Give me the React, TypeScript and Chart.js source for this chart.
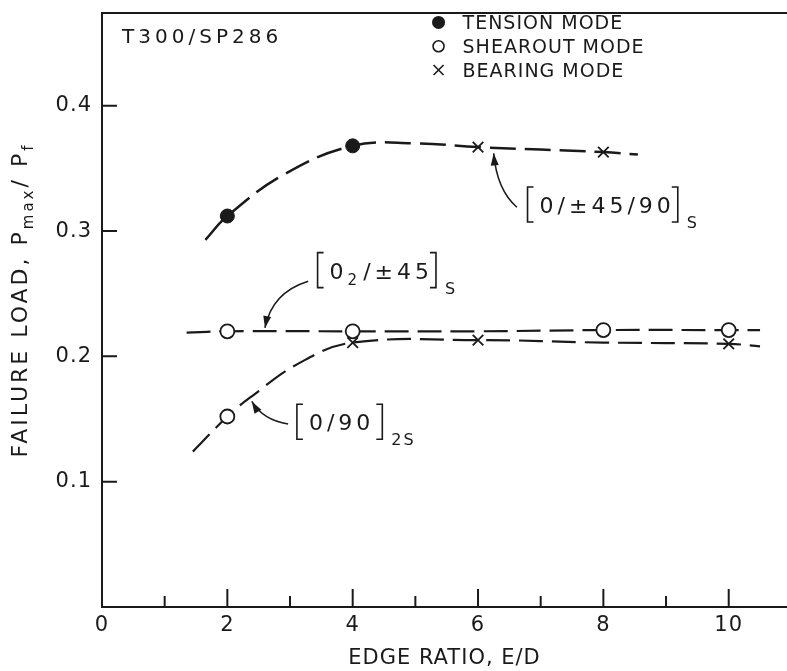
import React, { useEffect, useRef } from "react";
import { Chart, registerables } from "chart.js";

Chart.register(...registerables);

const FONT = "'DejaVu Sans', 'Liberation Sans', sans-serif";
const INK = "#1a1a1a";

// ---------- data ----------
// failure-mode markers
const tensionX = [2, 4];
const tensionY = [0.312, 0.368];
const shearoutX = [2, 4, 8, 10, 2];
const shearoutY = [0.22, 0.22, 0.221, 0.221, 0.152];
const bearingX = [6, 8, 4, 6, 10];
const bearingY = [0.367, 0.363, 0.211, 0.213, 0.21];

// faired dashed curves
const quasiX = [1.65, 2, 2.9, 4, 5, 6, 8, 8.55];
const quasiY = [0.293, 0.312, 0.345, 0.368, 0.37, 0.367, 0.363, 0.361];
const angleX = [1.35, 2, 4, 6, 8, 10, 10.5];
const angleY = [0.219, 0.22, 0.22, 0.22, 0.221, 0.221, 0.221];
const crossX = [1.45, 2, 2.36, 3.16, 4, 6, 8, 10, 10.5];
const crossY = [0.124, 0.152, 0.167, 0.195, 0.211, 0.213, 0.211, 0.21, 0.208];

// axes
const X_MIN = 0;
const X_MAX = 10.93;
const Y_MIN = 0;
const Y_MAX = 0.474;
const xMajorTicks = [2, 4, 6, 8, 10];
const xMinorTicks = [1, 3, 5, 7, 9];
const yMajorTicks = [0.1, 0.2, 0.3, 0.4];

// texts
const materialLabel = "T300/SP286";
const legendLabels = ["TENSION MODE", "SHEAROUT MODE", "BEARING MODE"];
const xTitle = "EDGE RATIO, E/D";

type Part = { t: string; size: number; dy: number; gap?: number };

function partsWidth(ctx: CanvasRenderingContext2D, parts: Part[], spacing: number) {
  let w = 0;
  for (const p of parts) {
    ctx.font = `${p.size}px ${FONT}`;
    ctx.letterSpacing = "0px";
    w += ctx.measureText(p.t).width + spacing * p.t.length + (p.gap || 0);
  }
  return w;
}

function drawParts(
  ctx: CanvasRenderingContext2D,
  parts: Part[],
  x: number,
  y: number,
  spacing: number
) {
  let cx = x;
  for (const p of parts) {
    ctx.font = `${p.size}px ${FONT}`;
    ctx.letterSpacing = "0px";
    const w = ctx.measureText(p.t).width + spacing * p.t.length;
    ctx.letterSpacing = `${spacing}px`;
    ctx.textAlign = "left";
    ctx.textBaseline = "alphabetic";
    ctx.fillText(p.t, cx, y + p.dy);
    cx += w + (p.gap || 0);
  }
  ctx.letterSpacing = "0px";
  return cx;
}

function bracket(ctx: CanvasRenderingContext2D, x: number, top: number, bottom: number, dir: number) {
  ctx.beginPath();
  ctx.moveTo(x + dir * 6, top);
  ctx.lineTo(x, top);
  ctx.lineTo(x, bottom);
  ctx.lineTo(x + dir * 6, bottom);
  ctx.stroke();
}

function arrow(
  ctx: CanvasRenderingContext2D,
  s: [number, number],
  c: [number, number],
  e: [number, number]
) {
  ctx.beginPath();
  ctx.moveTo(s[0], s[1]);
  ctx.quadraticCurveTo(c[0], c[1], e[0], e[1]);
  ctx.stroke();
  const ang = Math.atan2(e[1] - c[1], e[0] - c[0]);
  const L = 12;
  const Wd = 4;
  ctx.beginPath();
  ctx.moveTo(e[0], e[1]);
  ctx.lineTo(
    e[0] - L * Math.cos(ang) + Wd * Math.sin(ang),
    e[1] - L * Math.sin(ang) - Wd * Math.cos(ang)
  );
  ctx.lineTo(
    e[0] - L * Math.cos(ang) - Wd * Math.sin(ang),
    e[1] - L * Math.sin(ang) + Wd * Math.cos(ang)
  );
  ctx.closePath();
  ctx.fill();
}

// layup label with bracket: [ main ]sub
function layupLabel(
  ctx: CanvasRenderingContext2D,
  x: number,
  base: number,
  main: Part[],
  sub: string,
  closeGap = 3
) {
  ctx.lineWidth = 1.6;
  bracket(ctx, x, base - 26, base + 9, 1);
  const end = drawParts(ctx, main, x + 12, base, 4);
  const bx = end + closeGap;
  bracket(ctx, bx, base - 26, base + 9, -1);
  drawParts(ctx, [{ t: sub, size: 16, dy: 15 }], bx + 9, base, 2);
}

const noPad = (s: any) => {
  s.paddingTop = 0;
  s.paddingBottom = 0;
  s.paddingLeft = 0;
  s.paddingRight = 0;
};

export default function App() {
  const ref = useRef<HTMLCanvasElement>(null);

  useEffect(() => {
    const canvas = ref.current;
    if (!canvas) return;
    const pts = (xs: number[], ys: number[]) => xs.map((x, i) => ({ x, y: ys[i] }));

    const overlay = {
      id: "overlay",
      beforeDraw(chart: any) {
        const ctx = chart.ctx as CanvasRenderingContext2D;
        ctx.save();
        ctx.fillStyle = "#fff";
        ctx.fillRect(0, 0, chart.width, chart.height);
        ctx.restore();
        ctx.letterSpacing = "1px";
      },
      afterDraw(chart: any) {
        const ctx = chart.ctx as CanvasRenderingContext2D;
        const xs = chart.scales.x;
        const ys = chart.scales.y;
        const area = chart.chartArea;
        const X = (v: number) => xs.getPixelForValue(v);
        const Y = (v: number) => ys.getPixelForValue(v);
        ctx.save();
        ctx.strokeStyle = INK;
        ctx.fillStyle = INK;
        ctx.lineCap = "butt";

        // top frame line
        ctx.lineWidth = 2;
        ctx.beginPath();
        ctx.moveTo(area.left, area.top);
        ctx.lineTo(area.right, area.top);
        ctx.stroke();

        // inward tick marks
        ctx.lineWidth = 2;
        ctx.beginPath();
        for (const v of xMajorTicks) {
          ctx.moveTo(X(v), area.bottom);
          ctx.lineTo(X(v), area.bottom - 18);
        }
        for (const v of xMinorTicks) {
          ctx.moveTo(X(v), area.bottom);
          ctx.lineTo(X(v), area.bottom - 11);
        }
        for (const v of yMajorTicks) {
          ctx.moveTo(area.left, Y(v));
          ctx.lineTo(area.left + 15, Y(v));
        }
        ctx.stroke();

        // material label
        drawParts(ctx, [{ t: materialLabel, size: 20, dy: 0 }], X(0.32), Y(0.45), 4);

        // legend
        const lx = X(5.37);
        const rows = [Y(0.4665), Y(0.4475), Y(0.4285)];
        ctx.beginPath();
        ctx.arc(lx, rows[0], 6.5, 0, Math.PI * 2);
        ctx.fill();
        ctx.lineWidth = 1.6;
        ctx.beginPath();
        ctx.arc(lx, rows[1], 5.5, 0, Math.PI * 2);
        ctx.stroke();
        ctx.beginPath();
        ctx.moveTo(lx - 5, rows[2] - 5);
        ctx.lineTo(lx + 5, rows[2] + 5);
        ctx.moveTo(lx + 5, rows[2] - 5);
        ctx.lineTo(lx - 5, rows[2] + 5);
        ctx.stroke();
        legendLabels.forEach((t, i) => {
          drawParts(ctx, [{ t, size: 19, dy: 0 }], lx + 24, rows[i] + 7, 1);
        });

        // annotations
        ctx.lineWidth = 1.5;
        arrow(ctx, [X(6.62), Y(0.319)], [X(6.3), Y(0.333)], [X(6.25), Y(0.362)]);
        arrow(ctx, [X(3.29), Y(0.26)], [X(2.71), Y(0.251)], [X(2.6), Y(0.2227)]);
        arrow(ctx, [X(2.97), Y(0.146)], [X(2.57), Y(0.149)], [X(2.39), Y(0.164)]);

        layupLabel(ctx, X(6.79), Y(0.3144), [{ t: "0/±45/90", size: 22, dy: 0 }], "S");
        layupLabel(
          ctx,
          X(3.44),
          Y(0.262),
          [
            { t: "0", size: 22, dy: 0 },
            { t: "2", size: 15, dy: 6, gap: 2 },
            { t: "/±45", size: 22, dy: 0 },
          ],
          "S"
        );
        layupLabel(ctx, X(3.11), Y(0.141), [{ t: "0/90", size: 22, dy: 0 }], "2S", 8);

        // y axis title with subscripts (rotated)
        const parts: Part[] = [
          { t: "FAILURE LOAD, P", size: 22, dy: 0 },
          { t: "max", size: 15, dy: 6 },
          { t: "/ P", size: 22, dy: 0 },
          { t: "f", size: 15, dy: 6 },
        ];
        const tw = partsWidth(ctx, parts, 3);
        ctx.translate(27, (area.top + area.bottom) / 2 - 10);
        ctx.rotate(-Math.PI / 2);
        drawParts(ctx, parts, -tw / 2, 0, 3);
        ctx.restore();
      },
    };

    const chart = new Chart(canvas, {
      type: "scatter",
      data: {
        datasets: [
          {
            label: "Tension mode",
            data: pts(tensionX, tensionY),
            pointStyle: "circle",
            pointRadius: 7,
            pointBackgroundColor: INK,
            pointBorderColor: INK,
            pointBorderWidth: 1,
            showLine: false,
          },
          {
            label: "Shearout mode",
            data: pts(shearoutX, shearoutY),
            pointStyle: "circle",
            pointRadius: 7,
            pointBackgroundColor: "#fff",
            pointBorderColor: INK,
            pointBorderWidth: 1.8,
            showLine: false,
          },
          {
            label: "Bearing mode",
            data: pts(bearingX, bearingY),
            pointStyle: "crossRot",
            pointRadius: 7.5,
            pointBorderColor: INK,
            pointBorderWidth: 1.8,
            showLine: false,
          },
          {
            label: "[0/±45/90]s",
            data: pts(quasiX, quasiY),
            showLine: true,
            borderColor: INK,
            borderWidth: 2.5,
            borderDash: [26, 9],
            pointRadius: 0,
            tension: 0.4,
          },
          {
            label: "[02/±45]s",
            data: pts(angleX, angleY),
            showLine: true,
            borderColor: INK,
            borderWidth: 2.2,
            borderDash: [24, 9],
            pointRadius: 0,
            tension: 0.4,
          },
          {
            label: "[0/90]2s",
            data: pts(crossX, crossY),
            showLine: true,
            borderColor: INK,
            borderWidth: 2.2,
            borderDash: [24, 9],
            pointRadius: 0,
            tension: 0.4,
          },
        ],
      },
      options: {
        animation: false,
        responsive: false,
        devicePixelRatio: 1,
        layout: { autoPadding: false, padding: { top: 13, right: 0, bottom: 0, left: 0 } },
        plugins: {
          legend: { display: false },
          tooltip: { enabled: false },
        },
        scales: {
          x: {
            type: "linear",
            min: X_MIN,
            max: X_MAX,
            afterFit: (s: any) => {
              s.height = 64;
              noPad(s);
            },
            border: { display: true, color: INK, width: 2 },
            grid: { display: false, drawTicks: false },
            ticks: {
              stepSize: 1,
              autoSkip: false,
              maxRotation: 0,
              includeBounds: false,
              padding: 6,
              color: INK,
              font: { family: FONT, size: 21 },
              callback: (v: any) => (Math.abs(v % 2) < 1e-9 ? String(v) : ""),
            },
            title: {
              display: true,
              text: xTitle,
              color: INK,
              font: { family: FONT, size: 21 },
              padding: { top: 0, bottom: 0 },
            },
          },
          y: {
            type: "linear",
            min: Y_MIN,
            max: Y_MAX,
            afterFit: (s: any) => {
              s.width = 102;
              noPad(s);
            },
            border: { display: true, color: INK, width: 2 },
            grid: { display: false, drawTicks: false },
            ticks: {
              stepSize: 0.1,
              autoSkip: false,
              includeBounds: false,
              padding: 10,
              color: INK,
              font: { family: FONT, size: 21 },
              callback: (v: any) => {
                const r = Math.round(v * 10);
                return r > 0 && Math.abs(v * 10 - r) < 1e-6 ? (r / 10).toFixed(1) : "";
              },
            },
          },
        },
      },
      plugins: [overlay],
    } as any);

    return () => chart.destroy();
  }, []);

  return (
    <div
      style={{
        position: "fixed",
        left: 0,
        top: 0,
        width: 787,
        height: 671,
        background: "#fff",
      }}
    >
      <canvas ref={ref} width={787} height={671} style={{ display: "block" }} />
    </div>
  );
}
